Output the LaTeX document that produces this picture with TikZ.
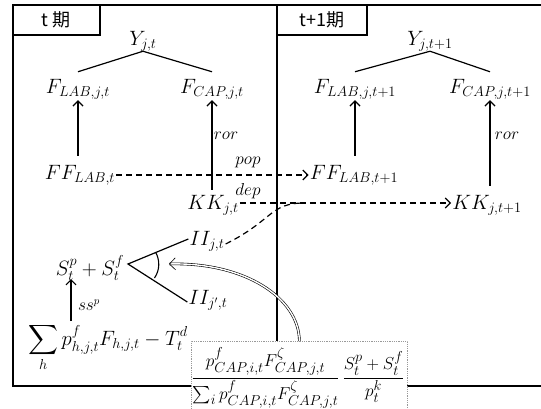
\documentclass[tikz,border=0pt]{standalone}
\usepackage{fontspec}
\usepackage{amsmath}
\usetikzlibrary{arrows.meta,calc}
\newfontfamily\cjk{Noto Sans CJK JP}
\begin{document}
\begin{tikzpicture}[x=1pt,y=-1pt,
  frame/.style={line width=1.4pt},
  mnode/.style={inner sep=1pt, font=\fontsize{19.5}{22}\selectfont},
  fnode/.style={inner sep=0pt, font=\fontsize{19}{23}\selectfont},
  lbl/.style={inner sep=0pt, font=\fontsize{16}{18}\selectfont},
  hdr/.style={inner sep=0pt, font=\cjk\fontsize{18}{20}\selectfont},
  arr/.style={line width=1.2pt, -{Straight Barb[length=5pt,width=10pt]}},
  darr/.style={line width=1.2pt, dash pattern=on 6pt off 4pt, -{Straight Barb[length=5pt,width=10pt]}},
  dline/.style={line width=1.2pt, dash pattern=on 6pt off 4pt},
  tree/.style={line width=1.2pt},
  boxst/.style={draw=gray!80, densely dotted, line width=0.8pt, fill=white},
  dbl/.style={double=white, double distance=1.4pt, line width=0.6pt, -{Straight Barb[length=6pt,width=12pt]}},
]
\useasboundingbox (0,0) rectangle (541,409);
% frame
\draw[frame] (541,5) -- (13,5) -- (13,386) -- (541,386);
\draw[frame] (277,5) -- (277,386);
\draw[frame] (13,35) -- (100,35) -- (100,5);
\draw[frame] (277,35) -- (367,35) -- (367,5);
\node[hdr] (h1) at (56,20) {t 期};
\node[hdr] (h2) at (322,20) {t+1期};

% period t
\node[mnode] (Y1) at (143,41) {$Y_{j,t}$};
\node[mnode] (FL1) at (78,89) {$F_{LAB,j,t}$};
\node[mnode] (FC1) at (212,89) {$F_{CAP,j,t}$};
\node[mnode] (FF1) at (80,175) {$FF_{LAB,t}$};
\node[mnode] (KK1) at (213,205) {$KK_{j,t}$};
% period t+1
\node[mnode] (Y2) at (430,41) {$Y_{j,t+1}$};
\node[mnode] (FL2) at (355,89) {$F_{LAB,j,t+1}$};
\node[mnode] (FC2) at (490,89) {$F_{CAP,j,t+1}$};
\node[mnode] (FF2) at (354,175) {$FF_{LAB,t+1}$};
\node[mnode] (KK2) at (487,205) {$KK_{j,t+1}$};

% lower part
\node[mnode] (S) at (90,268) {$S_t^p+S_t^f$};
\node[mnode] (II1) at (207,241) {$II_{j,t}$};
\node[mnode] (II2) at (208,300) {$II_{j',t}$};
\node[mnode, anchor=base west] (sum) at (27,345) {$\displaystyle\sum_h p^f_{h,j,t}F_{h,j,t}-T^d_t$};

% labels
\node[lbl] (pop) at (248,162) {$pop$};
\node[lbl] (dep) at (248,191) {$dep$};
\node[lbl] (ror1) at (226,136) {$ror$};
\node[lbl] (ror2) at (507,136) {$ror$};
\node[lbl] (ssp) at (89,305) {$ss^p$};

% trees
\draw[tree] ([yshift=6pt]FL1.north) -- ([yshift=1pt]Y1.south) -- ([yshift=6pt]FC1.north);
\draw[tree] ([yshift=6pt]FL2.north) -- ([yshift=1pt]Y2.south) -- ([yshift=6pt]FC2.north);

% vertical arrows
\draw[arr] ([yshift=8pt]FF1.north -| FL1.south) -- (FL1.south);
\draw[arr] ([yshift=4pt]KK1.north -| FC1.south) -- (FC1.south);
\draw[arr] ([yshift=8pt]FF2.north -| FL2.south) -- (FL2.south);
\draw[arr] ([yshift=8pt]KK2.north -| FC2.south) -- (FC2.south);

% dashed arrows
\draw[darr] (FF1.east) -- (FF1.east -| FF2.west);
\draw[darr] ([yshift=2pt]KK1.east) -- ([yshift=2pt]KK1.east -| KK2.west);
\coordinate (J) at ($([yshift=2pt]KK1.east -| II1.east)!0.35!([yshift=2pt]KK1.east -| KK2.west)$);
\draw[dline] ([yshift=-3pt]II1.east) .. controls ($([yshift=-3pt]II1.east)+(48,-24)$) and ($(J)+(-35,0)$) .. (J);

% wedge
\coordinate (apex) at (128,264);
\draw[tree] ([yshift=2pt]II1.west) -- (apex) -- ([yshift=-2pt]II2.west);
\draw[line width=1.1pt] (155.5,252) .. controls (160,260) and (160,270) .. (154.5,278);

% ss^p arrow
\coordinate (ssa) at (71,321);
\coordinate (ssb) at (71,279);
\draw[arr] (ssa) -- (ssb);

% formula box
\node[boxst, anchor=north west, minimum width=216pt, minimum height=90pt] (box) at (191,341) {};
\node[fnode] (frm) at (298,378) {$\dfrac{p^f_{CAP,i,t}F^{\zeta}_{CAP,j,t}}{\sum_i p^f_{CAP,i,t}F^{\zeta}_{CAP,j,t}}\,\dfrac{S_t^p+S_t^f}{p_t^k}$};

% double arrow
\coordinate (tip) at (169,264);
\draw[dbl] (box.north) .. controls (299,298) and (245,262) .. (tip);
\end{tikzpicture}
\end{document}
